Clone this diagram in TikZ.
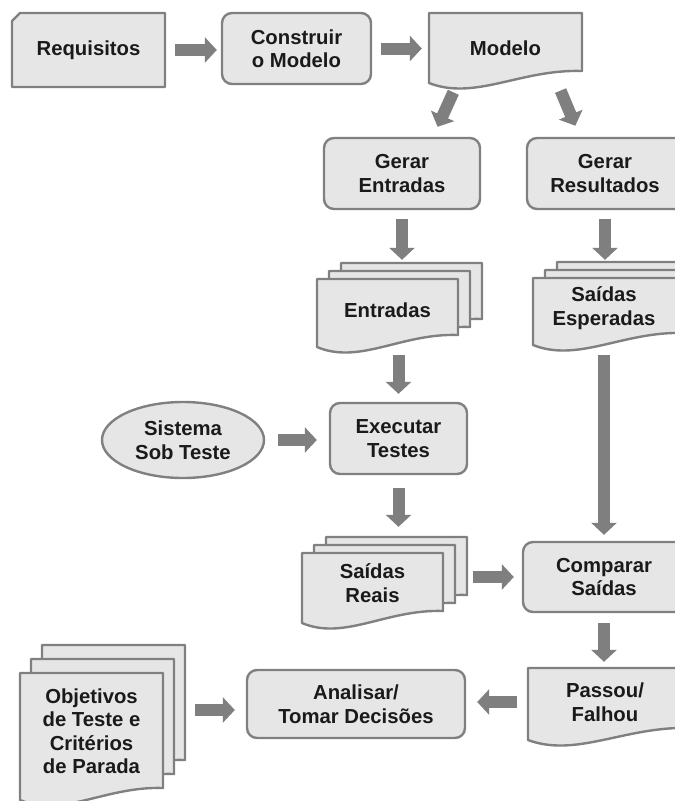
\documentclass[tikz,border=0pt]{standalone}
\usepackage{fontspec}
\setmainfont{Liberation Sans}
\usetikzlibrary{arrows.meta,shapes.geometric}

\definecolor{boxfill}{HTML}{E6E6E6}
\definecolor{boxline}{HTML}{808080}
\definecolor{flowgray}{HTML}{7F7F7F}
\definecolor{inktext}{HTML}{1A1A1A}

\newcommand\boxfont{\fontsize{20.3pt}{23.5pt}\selectfont\bfseries}

% document sheet: left x, top y, right x, bottom-left y (y grows downward)
\newcommand\docsheet[4]{%
  \pgfmathsetmacro\dsxa{#1}\pgfmathsetmacro\dsya{#2}%
  \pgfmathsetmacro\dsxb{#3}\pgfmathsetmacro\dsyb{#4}%
  \pgfmathsetmacro\dsw{\dsxb-\dsxa}%
  \filldraw[sheet] (\dsxa,\dsya) -- (\dsxa,\dsyb)
    .. controls ({\dsxa+0.3*\dsw},{\dsyb+18}) and ({\dsxa+0.6*\dsw},{\dsyb-14}) .. (\dsxb,{\dsyb-12})
    -- (\dsxb,\dsya) -- cycle;}

% three stacked sheets, each back sheet shifted by (dx,dy)
\newcommand\docstack[6]{%
  \docsheet{#1+2*(#5)}{#2+2*(#6)}{#3+2*(#5)}{#4+2*(#6)}%
  \docsheet{#1+(#5)}{#2+(#6)}{#3+(#5)}{#4+(#6)}%
  \docsheet{#1}{#2}{#3}{#4}}

\tikzset{
  sheet/.style={fill=boxfill, draw=boxline, line width=2.4pt, line join=round},
  roundbox/.style={rectangle, rounded corners=10pt, fill=boxfill, draw=boxline,
    line width=2.4pt, align=center, inner sep=0pt, text=inktext, font=\boxfont},
  ovalbox/.style={ellipse, fill=boxfill, draw=boxline, line width=2.4pt,
    align=center, inner sep=0pt, text=inktext, font=\boxfont},
  doctext/.style={rectangle, align=center, inner sep=0pt, text=inktext, font=\boxfont},
  flow/.style={draw=flowgray, line width=12pt, -{Triangle[length=12pt,width=25pt]}},
}

\begin{document}
\begin{tikzpicture}[x=1pt,y=-1pt]
\clip (0,0) rectangle (675,801);
\fill[white] (0,0) rectangle (675,801);

% sheet outlines (the right column runs past the page edge)
\filldraw[sheet] (12,87) -- (12,21) -- (20,13) -- (165,13) -- (165,87) -- cycle;
\docsheet{429}{13}{582}{83}
\docstack{317}{279}{458}{347}{12}{-8}
\docstack{533}{278}{684}{345}{12}{-8}
\docstack{302}{553}{443}{623}{12}{-8}
\docsheet{528}{668}{690}{740}
\docstack{20}{673}{163}{800}{11}{-14}

% texts on the sheets
\node[doctext, minimum width=153pt, minimum height=74pt] (req) at (88.5,50) {Requisitos};
\node[doctext, minimum width=153pt, minimum height=70pt] (mod) at (505.5,48) {Modelo};
\node[doctext, minimum width=141pt, minimum height=62pt] (ent) at (387.5,310) {Entradas};
\node[doctext, minimum width=142pt, minimum height=60pt] (se) at (604,308) {Saídas\\Esperadas};
\node[doctext, minimum width=141pt, minimum height=60pt] (sr) at (372.5,583) {Saídas\\Reais};
\node[doctext, minimum width=154pt, minimum height=68pt] (pf) at (605,702) {Passou/\\Falhou};
\node[doctext, minimum width=143pt, minimum height=116pt] (obj) at (91.5,731) {Objetivos\\de Teste e\\Critérios\\de Parada};

% process boxes
\node[roundbox, minimum width=149pt, minimum height=71pt] (con) at (296.5,48.5) {Construir\\o Modelo};
\node[roundbox, minimum width=156pt, minimum height=71pt] (ge) at (402,173.5) {Gerar\\Entradas};
\node[roundbox, minimum width=166pt, minimum height=71pt] (gr) at (610,173.5) {\hspace*{-10pt}Gerar\\\hspace*{-10pt}Resultados};
\node[ovalbox, minimum width=162pt, minimum height=76pt] (sys) at (183,440) {Sistema\\Sob Teste};
\node[roundbox, minimum width=137pt, minimum height=71pt] (exe) at (398.5,438.5) {Executar\\Testes};
\node[roundbox, minimum width=172pt, minimum height=70pt] (cmp) at (609,577) {\hspace*{-10pt}Comparar\\\hspace*{-10pt}Saídas};
\node[roundbox, minimum width=218pt, minimum height=68pt] (ana) at (356,704) {Analisar/\\Tomar Decisões};

% flow arrows
\draw[flow, shorten <=10pt, shorten >=4pt] (req.east) -- (req.east -| con.west);
\draw[flow, shorten <=9pt, shorten >=7pt] (con.east) -- (con.east -| mod.west);
\draw[flow, shorten <=10pt, shorten >=11pt] ([xshift=-48pt]mod.south) -- ([xshift=31pt]ge.north);
\draw[flow, shorten <=8pt, shorten >=12pt] ([xshift=52pt]mod.south) -- ([xshift=-30pt]gr.north);
\draw[flow, shorten <=9pt, shorten >=19pt] (ge.south) -- (ge.south |- ent.north);
\draw[flow, shorten <=9pt, shorten >=18pt] ([xshift=-5pt]gr.south) -- ([xshift=-5pt]gr.south |- se.north);
\draw[flow, shorten <=14pt, shorten >=8pt] (exe.north |- ent.south) -- (exe.north);
\draw[flow, shorten <=13pt, shorten >=12pt] (sys.east) -- (sys.east -| exe.west);
\draw[flow, shorten <=13pt, shorten >=26pt] (exe.south) -- (exe.south |- sr.north);
\draw[flow, shorten <=17pt, shorten >=6pt] (se.south) -- (se.south |- cmp.north);
\draw[flow, shorten <=30pt, shorten >=8pt] (cmp.west -| sr.east) -- (cmp.west);
\draw[flow, shorten <=10pt, shorten >=6pt] ([xshift=-5pt]cmp.south) -- ([xshift=-5pt]cmp.south |- pf.north);
\draw[flow, shorten <=11pt, shorten >=11pt] (pf.west) -- (pf.west -| ana.east);
\draw[flow, shorten <=32pt, shorten >=11pt] ([yshift=-6pt]ana.west -| obj.east) -- ([yshift=-6pt]ana.west);
\end{tikzpicture}
\end{document}
